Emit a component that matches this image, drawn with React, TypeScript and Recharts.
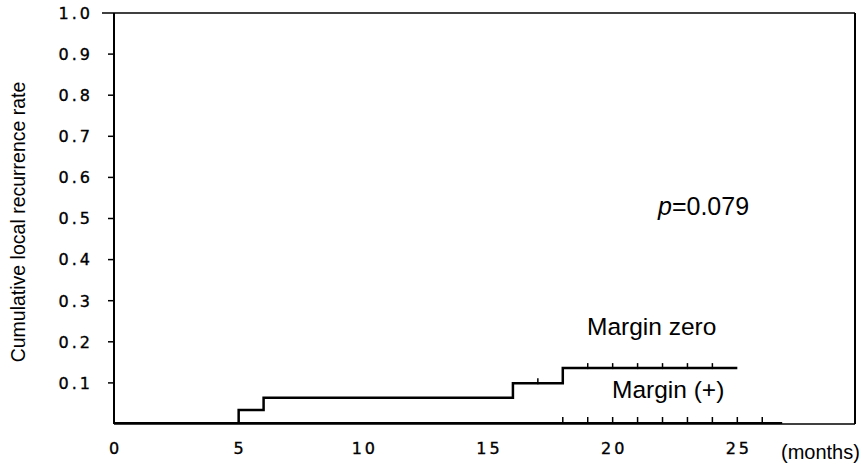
import React from 'react';
import { ComposedChart, Line, Scatter, XAxis, YAxis, ReferenceLine, Customized } from 'recharts';

// Margin zero step curve (time in months, cumulative rate)
const zeroTimes = [0, 5, 6, 16, 18, 25];
const zeroRates = [0, 0.034, 0.064, 0.099, 0.136, 0.136];
const zeroCensorTimes = [17, 19, 20, 21, 22, 23, 24];

// Margin (+) curve
const plusTimes = [0, 26.8];
const plusRates = [0, 0];
const plusCensorTimes = [18, 19, 20, 21, 22, 23, 24, 25, 26];

const xTicks = [0, 5, 10, 15, 20, 25];
const yTicks = [0.1, 0.2, 0.3, 0.4, 0.5, 0.6, 0.7, 0.8, 0.9, 1.0];
const yTickLabels = ['0.1', '0.2', '0.3', '0.4', '0.5', '0.6', '0.7', '0.8', '0.9', '1.0'];

const X_MAX = 29.72;

const stepValue = (times: number[], rates: number[], t: number) => {
  let v = rates[0];
  for (let i = 0; i < times.length; i++) if (times[i] <= t) v = rates[i];
  return v;
};

const zeroData = zeroTimes.map((t, i) => ({ t, r: zeroRates[i] }));
const plusData = plusTimes.map((t, i) => ({ t, r: plusRates[i] }));
const zeroCensor = zeroCensorTimes.map((t) => ({ t, r: stepValue(zeroTimes, zeroRates, t) }));
const plusCensor = plusCensorTimes.map((t) => ({ t, r: stepValue(plusTimes, plusRates, t) }));

const TICK_FONT = '"DejaVu Sans", sans-serif';
const LABEL_FONT = '"Liberation Sans", Arial, sans-serif';
const LS = 3;
const TICK_STYLE: React.CSSProperties = { fontFamily: TICK_FONT, fontSize: '16px', letterSpacing: `${LS}px` };

const XTick = (props: any) => {
  const { x, payload } = props;
  return (
    <text x={x + LS / 2} y={453.5} textAnchor="middle" style={TICK_STYLE} fill="#000" stroke="#000" strokeWidth={0.35}>
      {String(payload.value)}
    </text>
  );
};

const YTick = (props: any) => {
  const { y, payload } = props;
  const v = payload.value;
  const idx = yTicks.findIndex((t) => Math.abs(t - v) < 1e-6);
  const label = idx >= 0 ? yTickLabels[idx] : String(v);
  const isTop = Math.abs(v - 1) < 1e-6;
  return (
    <g>
      <line x1={isTop ? 102 : 108} x2={114} y1={y} y2={y} stroke="#000" strokeWidth={1.5} />
      <text x={90 + LS} y={y + 5.8} textAnchor="end" style={TICK_STYLE} fill="#000" stroke="#000" strokeWidth={0.35}>
        {label}
      </text>
    </g>
  );
};

const CensorTick = (h: number, below: number) => (props: any) => {
  const { cx, cy } = props;
  if (cx == null || cy == null) return <g />;
  return <line x1={cx} x2={cx} y1={cy - h} y2={cy + below} stroke="#000" strokeWidth={1.5} />;
};

const Annotations = () => (
  <g>
    <text x={25} y={222} transform="rotate(-90, 25, 222)" textAnchor="middle" fontFamily={LABEL_FONT} fontSize={19.5} fill="#000">
      Cumulative local recurrence rate
    </text>
    <text x={658} y={215} fontFamily={LABEL_FONT} fontSize={25} fill="#000">
      <tspan fontStyle="italic">p</tspan>=0.079
    </text>
    <text x={587} y={335} fontFamily={LABEL_FONT} fontSize={24.5} fill="#000">
      Margin zero
    </text>
    <text x={612} y={398} fontFamily={LABEL_FONT} fontSize={24.5} fill="#000">
      Margin (+)
    </text>
    <text x={781} y={459} fontFamily={LABEL_FONT} fontSize={20} fill="#000">
      (months)
    </text>
  </g>
);

export default function App() {
  return (
    <div style={{ position: 'absolute', left: 0, top: 0, width: 862, height: 464, background: '#fff' }}>
      <ComposedChart width={862} height={464} margin={{ top: 13, right: 7, left: 0, bottom: 0 }}>
        <XAxis
          type="number"
          dataKey="t"
          domain={[0, X_MAX]}
          ticks={xTicks}
          tick={(p: any) => <XTick {...p} />}
          tickLine={false}
          axisLine={{ stroke: '#000', strokeWidth: 1.5 }}
          height={40}
          allowDataOverflow
        />
        <YAxis
          type="number"
          dataKey="r"
          domain={[0, 1]}
          ticks={yTicks}
          tick={(p: any) => <YTick {...p} />}
          tickLine={false}
          axisLine={{ stroke: '#000', strokeWidth: 2 }}
          width={114}
          allowDataOverflow
        />
        <ReferenceLine y={1} stroke="#000" strokeWidth={1.5} />
        <ReferenceLine x={X_MAX} stroke="#000" strokeWidth={2} />
        <Line data={plusData} dataKey="r" type="stepAfter" stroke="#000" strokeWidth={4} dot={false} isAnimationActive={false} />
        <Line data={zeroData} dataKey="r" type="stepAfter" stroke="#000" strokeWidth={2.5} dot={false} isAnimationActive={false} />
        <Scatter data={zeroCensor} dataKey="r" shape={CensorTick(5, 1)} isAnimationActive={false} />
        <Scatter data={plusCensor} dataKey="r" shape={CensorTick(7, 2)} isAnimationActive={false} />
        <Customized component={Annotations} />
      </ComposedChart>
    </div>
  );
}
